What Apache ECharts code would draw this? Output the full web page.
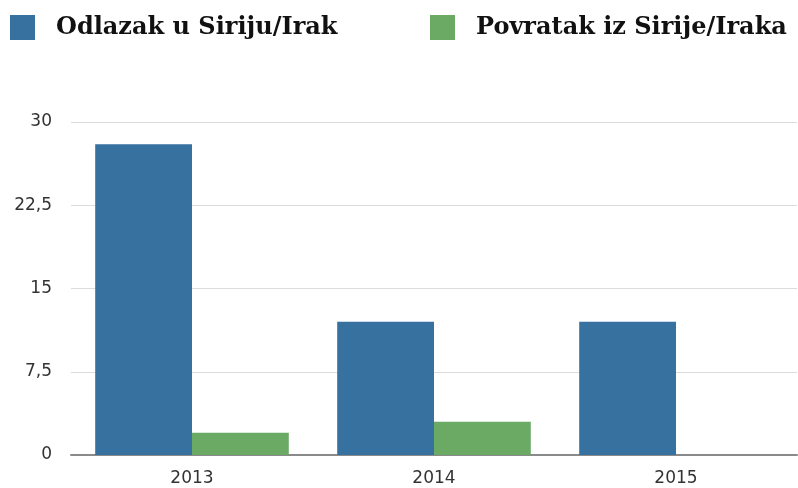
<!DOCTYPE html>
<html>
<head>
<meta charset="utf-8">
<script src="https://cdn.jsdelivr.net/npm/echarts@6/dist/echarts.min.js"></script>
<style>html,body{margin:0;padding:0;background:#fff}#c{width:798px;height:488px}</style>
</head>
<body>
<div id="c"></div>
<script>
const categories = ['2013', '2014', '2015'];
const seriesNames = ['Odlazak u Siriju/Irak', 'Povratak iz Sirije/Iraka'];
const odlazak = [28, 12, 12];
const povratak = [2, 3, 0];
const yTicks = [0, 7.5, 15, 22.5, 30];

const chart = echarts.init(document.getElementById('c'), null, {renderer: 'canvas'});
const legendText = {fontFamily: 'DejaVu Serif', fontWeight: 'bold', fontSize: 24, color: '#111', padding: [0, 0, 0, 16]};
chart.setOption({
  animation: false,
  legend: [
    {data: [seriesNames[0]], left: 10, top: 15, padding: 0, itemWidth: 25, itemHeight: 25, icon: 'rect', textStyle: legendText},
    {data: [seriesNames[1]], left: 430, top: 15, padding: 0, itemWidth: 25, itemHeight: 25, icon: 'rect', textStyle: legendText}
  ],
  grid: {left: 71, right: 1, top: 122, bottom: 33, containLabel: false},
  xAxis: {
    type: 'category',
    data: categories,
    axisTick: {show: false},
    axisLine: {lineStyle: {color: '#8a8a8a', width: 2}},
    axisLabel: {fontFamily: 'DejaVu Sans', fontSize: 17, color: '#333', margin: 15}
  },
  yAxis: {
    type: 'value',
    min: yTicks[0],
    max: yTicks[yTicks.length - 1],
    interval: yTicks[1] - yTicks[0],
    axisLine: {show: false},
    axisTick: {show: false},
    splitLine: {lineStyle: {color: '#dcdcdc', width: 1}},
    axisLabel: {
      fontFamily: 'DejaVu Sans', fontSize: 17, color: '#333', margin: 19,
      formatter: v => String(v).replace('.', ',')
    }
  },
  series: [
    {name: seriesNames[0], type: 'bar', data: odlazak, itemStyle: {color: '#36719f'}, barGap: '0%', barCategoryGap: '20%'},
    {name: seriesNames[1], type: 'bar', data: povratak, itemStyle: {color: '#6aaa64'}}
  ]
});
</script>
</body>
</html>
